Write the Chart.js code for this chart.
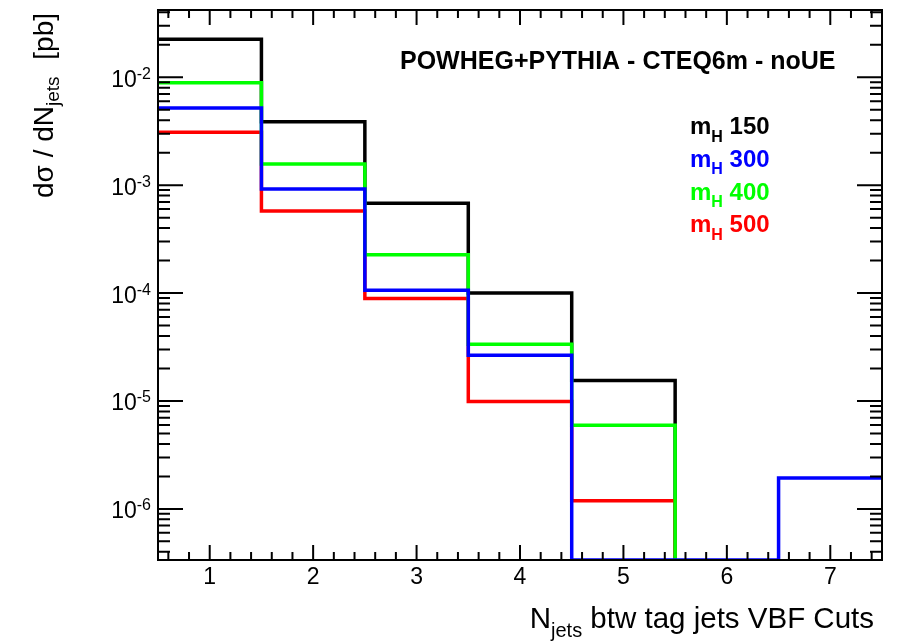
<!DOCTYPE html>
<html>
<head>
<meta charset="utf-8">
<script src="https://cdn.jsdelivr.net/npm/chart.js@4.4.1/dist/chart.umd.min.js"></script>
<style>
  body { margin: 0; background: #fff; }
  canvas { display: block; }
</style>
</head>
<body>
<canvas id="njets" width="902" height="642"></canvas>
<script>
// number of jets between the two tag jets, one bin per value
const nJets = [1, 2, 3, 4, 5, 6, 7]

// dsigma/dNjets [pb] for each Higgs mass, 0 = empty bin
const mH150 = [2.25e-2, 3.87e-3, 6.8e-4, 1.0e-4, 1.55e-5, 0, 0]
const mH300 = [5.2e-3, 9.2e-4, 1.06e-4, 2.65e-5, 0, 0, 1.93e-6]
const mH400 = [8.9e-3, 1.57e-3, 2.27e-4, 3.35e-5, 5.95e-6, 0, 0]
const mH500 = [3.1e-3, 5.75e-4, 8.9e-5, 9.9e-6, 1.19e-6, 0, 0]

const yDecades = [1e-2, 1e-3, 1e-4, 1e-5, 1e-6]
const yMin = 3.36e-7
const yMax = 4.2e-2

const FONT = '"Liberation Sans", Arial, Helvetica, sans-serif'

// histogram outline: left edge of every bin, then the right edge of the last
// filled bin; empty bins sit on the bottom of the frame like in ROOT
function histPoints(values) {
  let last = values.length - 1
  while (last > 0 && values[last] <= 0) last--
  const pts = []
  for (let i = 0; i <= last; i++) {
    pts.push({ x: nJets[i] - 0.5, y: values[i] > 0 ? values[i] : yMin })
  }
  pts.push({ x: nJets[last] + 0.5, y: values[last] })
  if (last < values.length - 1) pts.push({ x: nJets[last] + 0.5, y: yMin })
  return pts
}

function series(label, values, color, order) {
  return {
    label: label,
    data: histPoints(values),
    borderColor: color,
    borderWidth: 3.5,
    borderJoinStyle: 'miter',
    borderCapStyle: 'butt',
    stepped: 'before',
    pointRadius: 0,
    fill: false,
    order: order
  }
}

// text with sub/superscripts, drawn piece by piece
function drawParts(ctx, parts, x, y, align) {
  let w = 0
  parts.forEach(p => { ctx.font = p.font; w += ctx.measureText(p.text).width })
  let cx = align === 'right' ? x - w : x
  ctx.textAlign = 'left'
  ctx.textBaseline = 'alphabetic'
  parts.forEach(p => {
    ctx.font = p.font
    ctx.fillText(p.text, cx, y + (p.dy || 0))
    cx += ctx.measureText(p.text).width
  })
}

const legendRows = [
  { mass: '150', color: '#000000' },
  { mass: '300', color: '#0000ff' },
  { mass: '400', color: '#00ff00' },
  { mass: '500', color: '#ff0000' }
]

const rootFrame = {
  id: 'rootFrame',
  afterDraw(chart) {
    const ctx = chart.ctx
    const a = chart.chartArea
    const x = chart.scales.x
    const y = chart.scales.y
    ctx.save()
    ctx.strokeStyle = '#000'
    ctx.fillStyle = '#000'
    ctx.lineWidth = 2
    ctx.strokeRect(a.left, a.top, a.right - a.left, a.bottom - a.top)

    ctx.beginPath()
    // x ticks every 0.2, bottom and top, pointing inwards
    for (let i = 3; i <= 37; i++) {
      const px = x.getPixelForValue(i / 5)
      const len = i % 5 === 0 ? 15 : 8
      ctx.moveTo(px, a.bottom); ctx.lineTo(px, a.bottom - len)
      ctx.moveTo(px, a.top); ctx.lineTo(px, a.top + len)
    }
    // log ticks, left and right
    for (let k = -7; k <= -1; k++) {
      for (let m = 1; m <= 9; m++) {
        const v = m * Math.pow(10, k)
        if (v < yMin || v > yMax) continue
        const py = y.getPixelForValue(v)
        const len = m === 1 ? 25 : 12
        ctx.moveTo(a.left, py); ctx.lineTo(a.left + len, py)
        ctx.moveTo(a.right, py); ctx.lineTo(a.right - len, py)
      }
    }
    ctx.stroke()

    // x tick labels
    ctx.font = '23px ' + FONT
    ctx.textAlign = 'center'
    nJets.forEach(n => ctx.fillText(String(n), x.getPixelForValue(n), 584))

    // y tick labels 10^k
    yDecades.forEach(v => {
      const py = y.getPixelForValue(v)
      const exp = String(Math.round(Math.log10(v)))
      drawParts(ctx, [
        { text: '10', font: '23px ' + FONT, dy: 9.5 },
        { text: exp, font: '16px ' + FONT, dy: 1.5 }
      ], 151, py, 'right')
    })

    // axis titles
    drawParts(ctx, [
      { text: 'N', font: '29.5px ' + FONT },
      { text: 'jets', font: '20px ' + FONT, dy: 9 },
      { text: ' btw tag jets VBF Cuts', font: '29.5px ' + FONT }
    ], 874, 628, 'right')

    ctx.save()
    ctx.translate(53, 198)
    ctx.rotate(-Math.PI / 2)
    drawParts(ctx, [
      { text: 'd\u03c3 / dN', font: '28px ' + FONT },
      { text: 'jets', font: '19px ' + FONT, dy: 6 }
    ], 0, 0, 'left')
    drawParts(ctx, [{ text: '[pb]', font: '28px ' + FONT }], 185, 0, 'right')
    ctx.restore()

    // generator label and mass legend
    drawParts(ctx, [
      { text: 'POWHEG+PYTHIA - CTEQ6m - noUE', font: 'bold 25px ' + FONT }
    ], 400, 69, 'left')
    legendRows.forEach((row, i) => {
      ctx.fillStyle = row.color
      drawParts(ctx, [
        { text: 'm', font: 'bold 24px ' + FONT },
        { text: 'H', font: 'bold 16px ' + FONT, dy: 7.6 },
        { text: ' ' + row.mass, font: 'bold 24px ' + FONT }
      ], 690, 134 + i * 32.8, 'left')
    })
    ctx.restore()
  }
}

new Chart(document.getElementById('njets'), {
  type: 'line',
  data: {
    datasets: [
      series('mH 150', mH150, '#000000', 3),
      series('mH 500', mH500, '#ff0000', 2),
      series('mH 400', mH400, '#00ff00', 1),
      series('mH 300', mH300, '#0000ff', 0)
    ]
  },
  options: {
    responsive: false,
    animation: false,
    devicePixelRatio: 1,
    layout: { padding: { left: 158, top: 10, right: 20, bottom: 82 } },
    plugins: { legend: { display: false }, tooltip: { enabled: false } },
    scales: {
      x: { type: 'linear', min: 0.5, max: 7.5, display: false },
      y: { type: 'logarithmic', min: yMin, max: yMax, display: false }
    }
  },
  plugins: [rootFrame]
})
</script>
</body>
</html>
